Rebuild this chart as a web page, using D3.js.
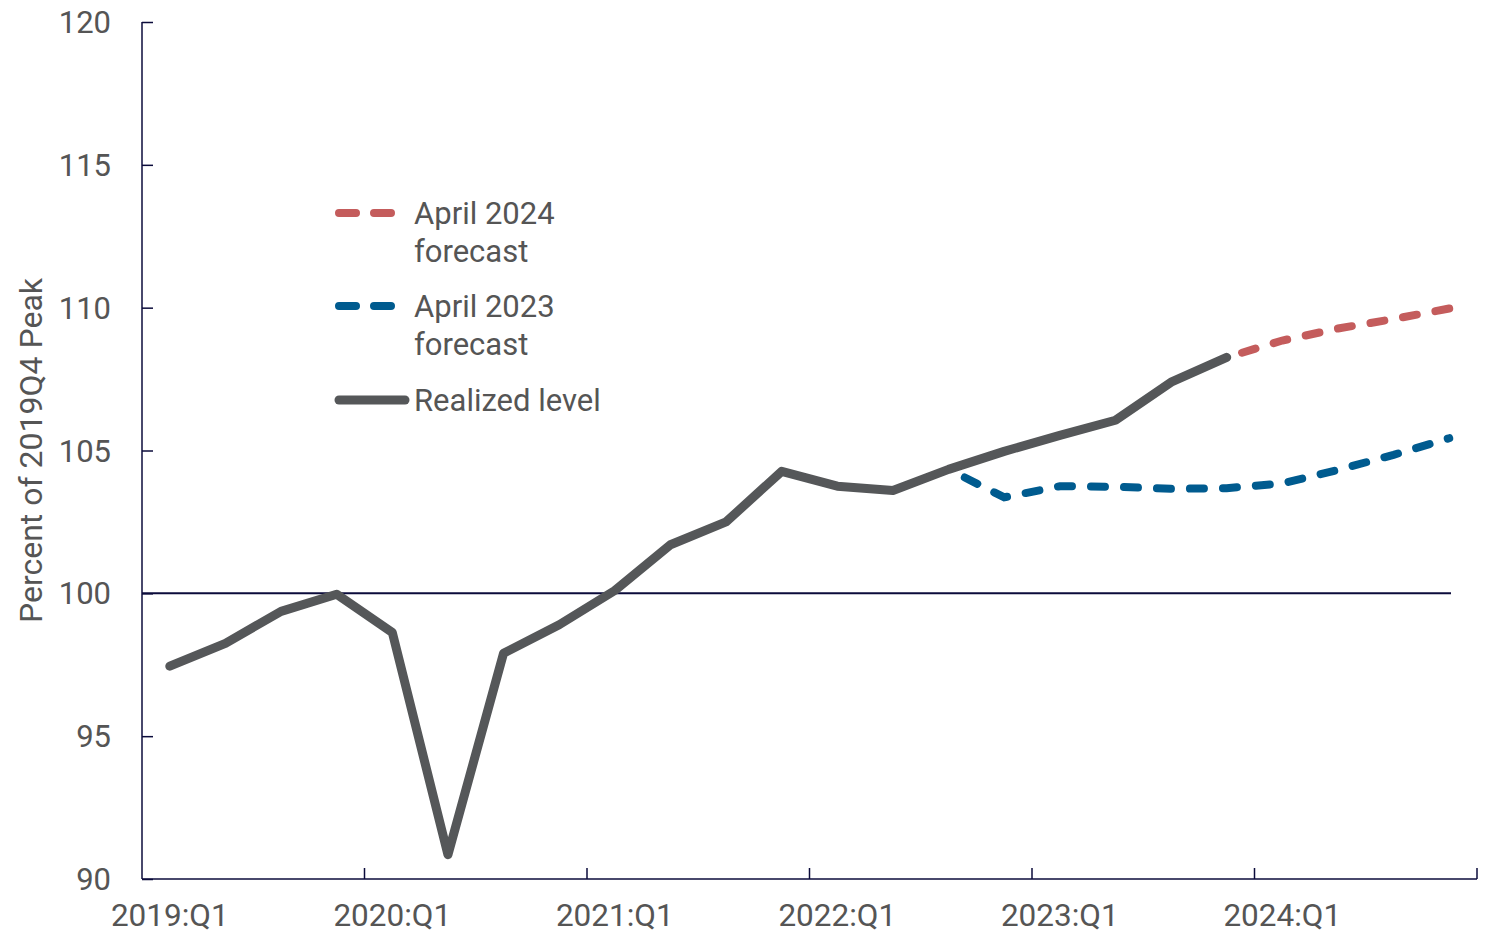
<!DOCTYPE html>
<html>
<head>
<meta charset="utf-8">
<script src="https://cdn.jsdelivr.net/npm/d3@7"></script>
<style>
  body { margin: 0; background: #fff; }
  svg { display: block; }
  svg text { font-family: Roboto, "Noto Sans", sans-serif; }
</style>
</head>
<body>
<svg id="chart"></svg>
<script>
// quarters 2019:Q1 .. 2024:Q4
var quarters = [];
[2019, 2020, 2021, 2022, 2023, 2024].forEach(function (y) {
    [1, 2, 3, 4].forEach(function (q) { quarters.push(y + ":Q" + q); });
});

var realized = [97.45, 98.25, 99.37, 99.97, 98.63, 90.85, 97.9, 98.9,
    100.1, 101.7, 102.5, 104.27, 103.75, 103.6, 104.34, 104.97,
    105.53, 106.06, 107.39, 108.26];

var april2023Start = "2022:Q3";
var april2023 = [104.34, 103.36, 103.75, 103.73, 103.66, 103.68, 103.85, 104.32, 104.85, 105.43];

var april2024Start = "2023:Q4";
var april2024 = [108.26, 108.85, 109.27, 109.6, 109.97];

var yTicks = [90, 95, 100, 105, 110, 115, 120];
var xTickLabels = ["2019:Q1", "2020:Q1", "2021:Q1", "2022:Q1", "2023:Q1", "2024:Q1"];

var width = 1494, height = 934;
var margin = { top: 22, right: 17, bottom: 55, left: 142 };

var svg = d3.select("#chart").attr("width", width).attr("height", height);

var x = d3.scaleBand()
    .domain(quarters)
    .range([margin.left, width - margin.right]);

var y = d3.scaleLinear()
    .domain([90, 120])
    .range([height - margin.bottom, margin.top]);

var cx = function (q) { return x(q) + x.bandwidth() / 2; };

var axisColor = "#0b0b3b", textColor = "#555";
var font = "Roboto, 'Noto Sans', sans-serif";

//--------
// AXES
//--------
var yAxis = svg.append("g")
    .attr("transform", "translate(" + margin.left + ",0)")
    .call(d3.axisLeft(y).tickValues(yTicks).tickSize(11).tickPadding(20));

var xAxis = svg.append("g")
    .attr("transform", "translate(0," + (height - margin.bottom) + ")")
    .call(d3.axisBottom(x)
        .tickValues(xTickLabels)
        .tickSize(0)
        .tickPadding(25));

// x ticks sit at year boundaries, pointing up
var boundaries = quarters.filter(function (q) { return /Q1$/.test(q); }).slice(1);
xAxis.selectAll(".yearTick")
    .data(boundaries)
    .enter().append("line")
    .attr("class", "yearTick")
    .attr("x1", function (d) { return x(d); })
    .attr("x2", function (d) { return x(d); })
    .attr("y1", 0).attr("y2", -11);
xAxis.append("line")
    .attr("x1", width - margin.right).attr("x2", width - margin.right)
    .attr("y1", 0).attr("y2", -11);

[xAxis, yAxis].forEach(function (g) {
    g.attr("font-family", font);
    g.select(".domain").attr("stroke", axisColor).attr("stroke-width", 1.5);
    g.selectAll("line").attr("stroke", axisColor).attr("stroke-width", 1.5);
    g.selectAll("text").attr("fill", textColor);
});
xAxis.selectAll(".tick text").style("font-size", "31.5px");
yAxis.selectAll(".tick text").style("font-size", "31px").attr("dy", "0.34em");
xAxis.select(".domain").attr("d", "M" + margin.left + ",0H" + (width - margin.right));
yAxis.select(".domain").attr("d", "M0," + y(120) + "V" + y(90));
yAxis.selectAll(".tick line").attr("x2", 11).attr("x1", 0);

svg.append("text")
    .attr("transform", "translate(42," + y(105) + ") rotate(-90)")
    .attr("text-anchor", "middle")
    .attr("fill", textColor)
    .style("font-size", "32px")
    .text("Percent of 2019Q4 Peak");

// reference line at 100
svg.append("line")
    .attr("x1", margin.left).attr("x2", 1451)
    .attr("y1", y(100)).attr("y2", y(100))
    .attr("stroke", axisColor).attr("stroke-width", 2);

//--------
// LINES
//--------
var line = d3.line()
    .x(function (d) { return cx(d.q); })
    .y(function (d) { return y(d.v); });

function series(startQ, values) {
    var i0 = quarters.indexOf(startQ);
    return values.map(function (v, i) { return { q: quarters[i0 + i], v: v }; });
}

var dash = 14, gap = 19, period = dash + gap;

// shift the dash pattern so the line finishes where the reference does
function dashedPath(data, color, endAt) {
    var p = svg.append("path")
        .datum(data)
        .attr("d", line)
        .attr("fill", "none")
        .attr("stroke", color)
        .attr("stroke-width", 8)
        .attr("stroke-linecap", "round")
        .attr("stroke-dasharray", dash + "," + gap);
    var L = p.node().getTotalLength();
    var off = ((endAt - L) % period + period) % period;
    p.attr("stroke-dashoffset", off);
    return p;
}

dashedPath(series(april2023Start, april2023), "#005b8f", 1.5);    // ends on a dot
dashedPath(series(april2024Start, april2024), "#c45c5c", dash);   // ends on a full dash

svg.append("path")
    .datum(series("2019:Q1", realized))
    .attr("d", line)
    .attr("fill", "none")
    .attr("stroke", "#555759")
    .attr("stroke-width", 9)
    .attr("stroke-linejoin", "round")
    .attr("stroke-linecap", "round");

//---------
// LEGEND
//---------
var legend = [
    { lines: ["April 2024", "forecast"], color: "#c45c5c", dash: true, y: 213 },
    { lines: ["April 2023", "forecast"], color: "#005b8f", dash: true, y: 306 },
    { lines: ["Realized level"], color: "#555759", dash: false, y: 400 }
];

var lg = svg.selectAll(".legend").data(legend).enter().append("g").attr("class", "legend");
lg.append("line")
    .attr("x1", 339)
    .attr("x2", function (d) { return d.dash ? 391 : 405; })
    .attr("y1", function (d) { return d.y; }).attr("y2", function (d) { return d.y; })
    .attr("stroke", function (d) { return d.color; })
    .attr("stroke-width", function (d) { return d.dash ? 8 : 9; })
    .attr("stroke-linecap", "round")
    .attr("stroke-dasharray", function (d) { return d.dash ? "17,18" : null; });
lg.each(function (d) {
    var t = d3.select(this).append("text")
        .attr("x", 414).attr("y", d.y)
        .attr("fill", textColor)
        .style("font-size", "31px");
    d.lines.forEach(function (s, i) {
        t.append("tspan").attr("x", 414).attr("dy", i === 0 ? "0.35em" : "1.22em").text(s);
    });
});
</script>
</body>
</html>
